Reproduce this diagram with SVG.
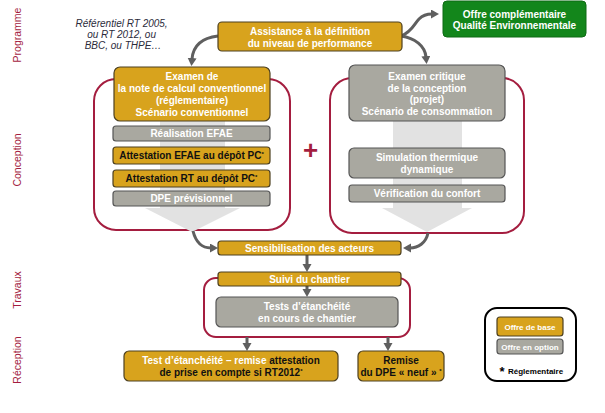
<svg xmlns="http://www.w3.org/2000/svg" width="605" height="413" viewBox="0 0 605 413">
<style>
  text { font-family: "Liberation Sans", Arial, sans-serif; }
  .g { fill: #d8a31d; stroke: #4d4020; stroke-width: 1.2; }
  .s { fill: #a9a8a0; stroke: #555; stroke-width: 1.2; }
  .red { fill: none; stroke: #a41d3f; stroke-width: 2; }
  .t { font-size: 10px; font-weight: bold; text-anchor: middle; fill: #fff; }
  .sm { font-size: 8px; }
  .k { fill: #111; }
  .lbl { font-size: 10.5px; fill: #a41d3f; text-anchor: middle; }
  .con { fill: none; stroke: #5f5f5f; stroke-width: 3; }
  .big { fill: #e2e2e2; }
</style>
<defs>
  <marker id="ah" markerUnits="userSpaceOnUse" markerWidth="10" markerHeight="10" refX="1" refY="4.5" orient="auto">
    <path d="M0,0 L8,4.5 L0,9 z" fill="#5f5f5f"/>
  </marker>
</defs>

<g id="phase-labels">
  <text class="lbl" transform="translate(21,35) rotate(-90)">Programme</text>
  <text class="lbl" transform="translate(21,160) rotate(-90)">Conception</text>
  <text class="lbl" transform="translate(21,290) rotate(-90)">Travaux</text>
  <text class="lbl" transform="translate(21,360) rotate(-90)">Réception</text>
</g>

<g id="referentiel">
  <text font-size="10" font-style="italic" fill="#2b2b3b" text-anchor="middle">
    <tspan x="123" y="27">Référentiel RT 2005,</tspan>
    <tspan x="123" y="38">ou RT 2012, ou</tspan>
    <tspan x="123" y="49">BBC, ou THPE…</tspan>
  </text>
</g>

<g id="red-frames">
  <rect class="red" x="94" y="79" width="196" height="151" rx="22"/>
  <rect class="red" x="330" y="78" width="194" height="155" rx="22"/>
  <rect class="red" x="204" y="278" width="206" height="59" rx="12"/>
</g>

<g id="big-arrows">
  <polygon class="big" points="160,121 225,121 225,208 240,208 192,232 145,208 160,208"/>
  <polygon class="big" points="393,121 462,121 462,208 472,208 427,232 382,208 393,208"/>
</g>

<g id="connectors">
  <path class="con" d="M218,36 C201,38 193,47 192,59" marker-end="url(#ah)"/>
  <path class="con" d="M401,36 C412,32 414,24 419,19 C423,15 427,14 432,14" marker-end="url(#ah)"/>
  <path class="con" d="M401,36 C415,38 425,46 426,57" marker-end="url(#ah)"/>
  <path class="con" d="M193,231 C196,243 203,248 211,248" marker-end="url(#ah)"/>
  <path class="con" d="M428,233 C426,243 418,248 410,248" marker-end="url(#ah)"/>
  <path class="con" d="M307,255 L307,265" marker-end="url(#ah)"/>
  <path class="con" d="M307,286 L307,290" marker-end="url(#ah)"/>
  <path class="con" d="M247,337 L247,344" marker-end="url(#ah)"/>
  <path class="con" d="M388,337 L388,344" marker-end="url(#ah)"/>
</g>

<g id="assistance">
  <rect class="g" x="218" y="22" width="184" height="29" rx="4"/>
  <text class="t"><tspan x="310" y="35">Assistance à la définition</tspan><tspan x="310" y="46.5">du niveau de performance</tspan></text>
</g>

<g id="offre-qe">
  <rect x="443" y="1" width="143" height="36" rx="4" fill="#13861b" stroke="#0e6a14" stroke-width="1"/>
  <text class="t"><tspan x="514.5" y="17.5">Offre complémentaire</tspan><tspan x="514.5" y="28.5">Qualité Environnementale</tspan></text>
</g>

<g id="examen-note">
  <rect class="g" x="114" y="67" width="156" height="54" rx="6"/>
  <text class="t"><tspan x="192" y="79.5">Examen de</tspan><tspan x="192" y="91.5">la note de calcul conventionnel</tspan><tspan x="192" y="103.5">(réglementaire)</tspan><tspan x="192" y="115.5">Scénario conventionnel</tspan></text>
</g>

<g id="realisation-efae">
  <rect class="s" x="113" y="126" width="157" height="15" rx="3"/>
  <text class="t" x="191.5" y="137">Réalisation EFAE</text>
</g>

<g id="attestation-efae">
  <rect class="g" x="113" y="147" width="157" height="17" rx="3"/>
  <text class="t k" x="191.5" y="159">Attestation EFAE au dépôt PC<tspan font-size="6" dy="-3">*</tspan></text>
</g>

<g id="attestation-rt">
  <rect class="g" x="113" y="170" width="157" height="17" rx="3"/>
  <text class="t k" x="191.5" y="182">Attestation RT au dépôt PC<tspan font-size="6" dy="-3">*</tspan></text>
</g>

<g id="dpe-previsionnel">
  <rect class="s" x="113" y="191" width="157" height="15" rx="3"/>
  <text class="t" x="191.5" y="202">DPE prévisionnel</text>
</g>

<g id="plus">
  <text x="310.5" y="158.5" font-size="26" font-weight="bold" fill="#a41d3f" text-anchor="middle">+</text>
</g>

<g id="examen-critique">
  <rect class="s" x="349" y="65" width="156" height="56" rx="6"/>
  <text class="t"><tspan x="427" y="79.5">Examen critique</tspan><tspan x="427" y="91.5">de la conception</tspan><tspan x="427" y="102.5">(projet)</tspan><tspan x="427" y="114.5">Scénario de consommation</tspan></text>
</g>

<g id="simulation">
  <rect class="s" x="349" y="148" width="156" height="30" rx="5"/>
  <text class="t"><tspan x="427" y="160.5">Simulation thermique</tspan><tspan x="427" y="172.5">dynamique</tspan></text>
</g>

<g id="verification">
  <rect class="s" x="349" y="185" width="156" height="17" rx="3"/>
  <text class="t" x="427" y="197">Vérification du confort</text>
</g>

<g id="sensibilisation">
  <rect class="g" x="218" y="241" width="183" height="14" rx="3"/>
  <text class="t" x="309.5" y="252">Sensibilisation des acteurs</text>
</g>

<g id="suivi">
  <rect class="g" x="218" y="272" width="183" height="14" rx="3"/>
  <text class="t" x="309.5" y="283">Suivi du chantier</text>
</g>

<g id="tests">
  <rect class="s" x="216" y="297" width="182" height="30" rx="5"/>
  <text class="t"><tspan x="307" y="310">Tests d’étanchéité</tspan><tspan x="307" y="321.5">en cours de chantier</tspan></text>
</g>

<g id="test-reception">
  <rect class="g" x="124" y="351" width="214" height="30" rx="5"/>
  <text class="t"><tspan x="231" y="363.5">Test d’étanchéité – remise <tspan class="k">attestation</tspan></tspan><tspan class="k" x="231" y="375.5">de prise en compte si RT2012<tspan font-size="6" dy="-3">*</tspan></tspan></text>
</g>

<g id="remise-dpe">
  <rect class="g" x="358" y="351" width="86" height="30" rx="5"/>
  <text class="t k"><tspan x="401" y="363.5">Remise</tspan><tspan x="401" y="375.5">du DPE « neuf » <tspan font-size="6" dy="-3">*</tspan></tspan></text>
</g>

<g id="legend">
  <rect x="485" y="308" width="91" height="73" rx="12" fill="#fff" stroke="#000" stroke-width="2"/>
  <rect class="g" x="497" y="317" width="66" height="19" rx="3"/>
  <text class="t sm" x="530" y="329.5">Offre de base</text>
  <rect class="s" x="497" y="339" width="66" height="15" rx="3"/>
  <text class="t sm" x="530" y="349.5">Offre en option</text>
  <text x="502" y="376" font-size="13" font-weight="bold" fill="#000" text-anchor="middle">*</text>
  <text x="508" y="374" font-size="8" font-weight="bold" fill="#000">Réglementaire</text>
</g>
</svg>
